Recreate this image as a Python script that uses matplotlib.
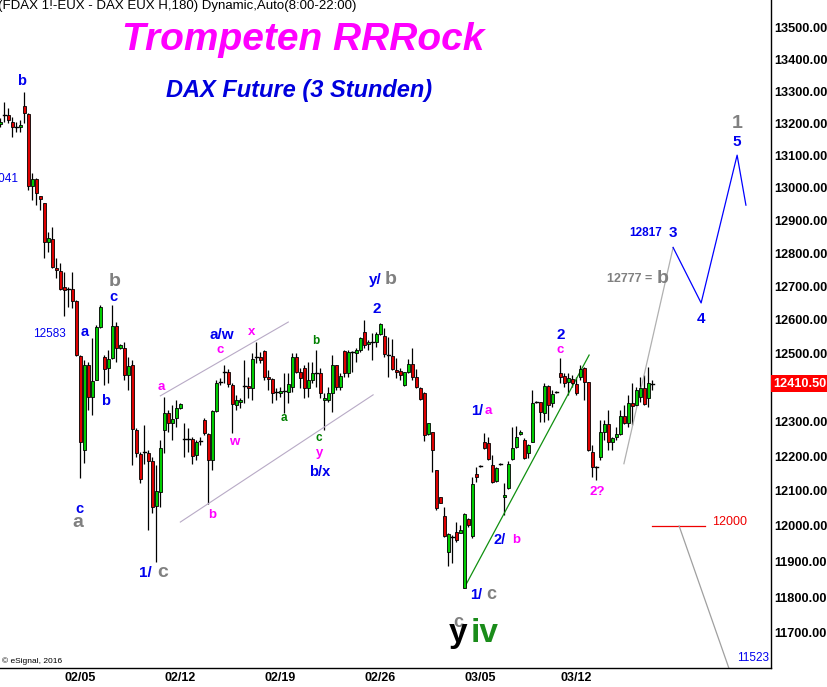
import matplotlib
matplotlib.use("Agg")
import matplotlib.pyplot as plt
from matplotlib.patches import Rectangle
from matplotlib.ticker import FixedLocator, FormatStrFormatter, NullLocator

plt.rcParams['font.family'] = ['Liberation Sans', 'DejaVu Sans']

# 3-hour bars, index 0 = first bar on the left edge
opens = [13197, 13225, 13225, 13203, 13187, 13187, 13253, 13228, 13005, 13026,
         12974, 12953, 12834, 12843, 12755, 12746, 12698, 12692, 12692, 12656,
         12492, 12218, 12466, 12372, 12422, 12578, 12489, 12457, 12486, 12581,
         12516, 12516, 12436, 12466, 12275, 12206, 12212, 12209, 12186, 12057,
         12097, 12275, 12325, 12296, 12311, 12340, 12249, 12249, 12249, 12204,
         12243, 12305, 12264, 12189, 12331, 12416, 12445, 12445, 12407, 12348,
         12357, 12404, 12404, 12398, 12489, 12489, 12507, 12431, 12425, 12387,
         12384, 12389, 12387, 12401, 12489, 12445, 12457, 12398, 12422, 12442,
         12442, 12363, 12363, 12384, 12466, 12401, 12507, 12442, 12504, 12501,
         12510, 12564, 12528, 12534, 12534, 12557, 12552, 12495, 12492, 12451,
         12448, 12407, 12445, 12469, 12431, 12398, 12384, 12264, 12270, 12160,
         12082, 12028, 11926, 11969, 11983, 11980, 11826, 12020, 11971, 12149,
         12172, 12240, 12238, 12175, 12128, 12178, 12082, 12108, 12192, 12226,
         12264, 12246, 12209, 12241, 12357, 12357, 12325, 12404, 12354, 12387,
         12442, 12433, 12416, 12425, 12410, 12431, 12457, 12416, 12212, 12169,
         12198, 12270, 12293, 12240, 12255, 12264, 12316, 12296, 12354, 12348,
         12372, 12398, 12369, 12410.5]
highs = [13215, 13266, 13247, 13219, 13203, 13209, 13297, 13231, 13045, 13029,
         12974, 12953, 12864, 12879, 12785, 12770, 12743, 12698, 12743, 12659,
         12495, 12480, 12474, 12546, 12584, 12644, 12495, 12510, 12644, 12593,
         12528, 12534, 12489, 12480, 12281, 12212, 12290, 12218, 12198, 12175,
         12246, 12372, 12334, 12348, 12363, 12354, 12296, 12281, 12255, 12246,
         12255, 12311, 12267, 12334, 12422, 12428, 12466, 12454, 12413, 12378,
         12369, 12480, 12431, 12501, 12534, 12504, 12510, 12451, 12428, 12398,
         12401, 12442, 12442, 12501, 12501, 12457, 12466, 12474, 12474, 12510,
         12457, 12384, 12401, 12495, 12466, 12442, 12510, 12510, 12507, 12516,
         12549, 12599, 12540, 12560, 12563, 12590, 12575, 12549, 12543, 12486,
         12457, 12445, 12483, 12516, 12454, 12401, 12387, 12296, 12270, 12160,
         12082, 12054, 11980, 11974, 12011, 12003, 12037, 12022, 12140, 12169,
         12175, 12267, 12255, 12204, 12169, 12180, 12122, 12186, 12284, 12287,
         12275, 12252, 12235, 12392, 12360, 12357, 12413, 12407, 12392, 12389,
         12486, 12442, 12442, 12436, 12431, 12466, 12460, 12416, 12232, 12172,
         12305, 12305, 12334, 12255, 12284, 12334, 12348, 12378, 12413, 12401,
         12431, 12436, 12460, 12422]
lows = [13187, 13203, 13200, 13156, 13172, 13172, 13200, 12992, 12962, 12946,
        12931, 12785, 12803, 12755, 12725, 12689, 12611, 12638, 12635, 12492,
        12137, 12180, 12334, 12320, 12422, 12575, 12407, 12413, 12483, 12474,
        12513, 12422, 12392, 12175, 12198, 12122, 12178, 11989, 12037, 11898,
        12054, 12209, 12270, 12246, 12284, 12337, 12198, 12212, 12178, 12189,
        12232, 12261, 12063, 12160, 12328, 12407, 12413, 12401, 12267, 12334,
        12340, 12354, 12369, 12363, 12471, 12471, 12422, 12392, 12354, 12363,
        12372, 12325, 12354, 12387, 12442, 12398, 12369, 12372, 12413, 12401,
        12369, 12275, 12357, 12328, 12392, 12392, 12431, 12431, 12445, 12474,
        12504, 12516, 12510, 12480, 12519, 12554, 12489, 12431, 12451, 12428,
        12422, 12404, 12442, 12422, 12398, 12363, 12243, 12261, 12154, 12045,
        12065, 11969, 11887, 11895, 11955, 11980, 11826, 11997, 11966, 12125,
        12169, 12221, 12189, 12122, 12125, 12175, 12031, 12105, 12189, 12223,
        12261, 12192, 12195, 12241, 12354, 12299, 12299, 12305, 12343, 12384,
        12413, 12401, 12378, 12401, 12378, 12422, 12363, 12215, 12140, 12131,
        12189, 12246, 12218, 12218, 12246, 12261, 12293, 12284, 12290, 12345,
        12357, 12348, 12343, 12392]
closes = [13203, 13225, 13209, 13187, 13187, 13194, 13231, 13005, 13026, 12983,
          12965, 12834, 12846, 12758, 12749, 12692, 12689, 12692, 12656, 12495,
          12240, 12466, 12372, 12419, 12578, 12638, 12454, 12483, 12581, 12516,
          12525, 12436, 12463, 12278, 12209, 12134, 12212, 12186, 12054, 12100,
          12223, 12325, 12296, 12308, 12340, 12351, 12249, 12249, 12201, 12241,
          12243, 12267, 12189, 12331, 12413, 12416, 12445, 12410, 12351, 12363,
          12363, 12404, 12398, 12483, 12489, 12480, 12431, 12425, 12384, 12387,
          12389, 12389, 12410, 12489, 12445, 12428, 12398, 12422, 12442, 12442,
          12384, 12369, 12384, 12466, 12401, 12433, 12442, 12504, 12504, 12510,
          12546, 12525, 12534, 12534, 12557, 12587, 12498, 12495, 12454, 12445,
          12436, 12445, 12469, 12431, 12401, 12366, 12261, 12296, 12218, 12051,
          12065, 11971, 11977, 11969, 11960, 11989, 12034, 12003, 12120, 12140,
          12172, 12223, 12192, 12125, 12166, 12178, 12088, 12178, 12223, 12255,
          12270, 12195, 12232, 12354, 12357, 12328, 12404, 12348, 12381, 12387,
          12431, 12413, 12428, 12413, 12384, 12454, 12416, 12218, 12169, 12169,
          12270, 12293, 12240, 12252, 12264, 12316, 12296, 12354, 12345, 12392,
          12398, 12351, 12413, 12410.5]

date_ticks = [20, 45, 70, 95, 120, 144]
date_labels = ['02/05', '02/12', '02/19', '02/26', '03/05', '03/12']
price_ticks = list(range(11700, 13600, 100))

# drawn wave lines: (bar index, price)
upper_channel = ([40, 72], [12375, 12593])
lower_channel = ([45, 93.2], [12011, 12378])
green_trend = ([116, 147.2], [11826, 12495])
b_target = ([155.9, 168.2], [12178, 12817])
wave_path = ([168.2, 175.2, 184.2, 186.4], [12817, 12650, 13100, 12946])
level_12000 = ([163, 176.2], [12000, 12000])
drop_11523 = ([169.7, 184.7], [12000, 11523])

BLUE = '#0000ee'
GRAY = '#808080'
MAG = '#ff00ff'
GRN = '#008000'
UP = '#00cc00'
DN = '#dd0000'

fig = plt.figure(figsize=(8.28, 6.87), dpi=100)
ax = fig.add_axes([0, 19 / 687, 771 / 828, 668 / 687])
ax.set_yscale('log')
ax.set_xlim(-0.08, 192.67)
ax.set_ylim(11603.5, 13589.7)

for i, (o, h, l, c) in enumerate(zip(opens, highs, lows, closes)):
    ax.plot([i, i], [l, h], color='black', lw=0.9, zorder=2, solid_capstyle='butt')
    if abs(c - o) < 1:
        ax.plot([i - 0.4, i + 0.4], [c, c], color='black', lw=1.0, zorder=3)
    else:
        ax.add_patch(Rectangle((i - 0.3, min(o, c)), 0.6, abs(c - o),
                               facecolor=UP if c > o else DN,
                               edgecolor='black', lw=0.6, zorder=3))

ax.plot(*upper_channel, color='#b8aac6', lw=0.8)
ax.plot(*lower_channel, color='#b8aac6', lw=0.8)
ax.plot(*green_trend, color='#109010', lw=0.9)
ax.plot(*b_target, color='#b0b0b0', lw=0.9)
ax.plot(*wave_path, color='#0000ff', lw=0.9)
ax.plot(*level_12000, color='#ee0000', lw=0.9)
ax.plot(*drop_11523, color='#a0a0a0', lw=0.9)


def lab(x, y, s, color, size, weight='bold', ha='center', va='center'):
    ax.text(x, y, s, color=color, fontsize=size, fontweight=weight,
            ha=ha, va=va, clip_on=False, zorder=5)


# wave labels
lab(5.2, 13332, 'b', BLUE, 10.5)
lab(4.4, 13025, '13041', BLUE, 8.5, weight='normal', ha='right')
lab(12.4, 12557, '12583', BLUE, 8.5, weight='normal')
lab(28.7, 12713, 'b', GRAY, 14)
lab(28.2, 12668, 'c', BLUE, 10.5)
lab(21.2, 12563, 'a', BLUE, 10.5)
lab(26.2, 12360, 'b', BLUE, 10.5)
lab(19.9, 12048, 'c', BLUE, 10.5)
lab(19.4, 12011, 'a', GRAY, 14)
lab(36.3, 11868, '1/', BLUE, 11)
lab(40.6, 11868, 'c', GRAY, 14)
lab(40.2, 12401, 'a', MAG, 9.5)
lab(55.4, 12554, 'a/w', BLUE, 11)
lab(54.9, 12510, 'c', MAG, 9.5)
lab(62.9, 12562, 'x', MAG, 9.5)
lab(58.4, 12241, 'w', MAG, 9.5)
lab(52.9, 12031, 'b', MAG, 9.5)
lab(70.9, 12311, 'a', GRN, 8.5)
lab(78.9, 12537, 'b', GRN, 8.5)
lab(79.7, 12252, 'c', GRN, 8.5)
lab(79.9, 12209, 'y', MAG, 9.5)
lab(79.9, 12154, 'b/x', BLUE, 10.5)
lab(93.7, 12719, 'y/', BLUE, 11)
lab(97.6, 12719, 'b', GRAY, 14)
lab(94.2, 12632, '2', BLUE, 11)
lab(119.2, 12331, '1/', BLUE, 10.5)
lab(121.9, 12331, 'a', MAG, 9.5)
lab(140.2, 12554, '2', BLUE, 11)
lab(139.9, 12510, 'c', MAG, 9.5)
lab(124.9, 11960, '2/', BLUE, 10.5)
lab(128.9, 11960, 'b', MAG, 9.5)
lab(118.9, 11806, '1/', BLUE, 10.5)
lab(122.7, 11806, 'c', GRAY, 13)
lab(114.4, 11728, 'c', GRAY, 13)
lab(114.4, 11675, 'y', 'black', 24, va='baseline')
lab(121.0, 11675, 'iv', '#1a8c1a', 24, va='baseline')
lab(149.2, 12097, '2?', MAG, 9.5)
lab(162.9, 12722, '12777 =', GRAY, 9, ha='right')
lab(165.7, 12722, 'b', GRAY, 14)
lab(165.4, 12861, '12817', BLUE, 8.5, ha='right')
lab(168.2, 12861, '3', BLUE, 11)
lab(175.2, 12602, '4', BLUE, 11)
lab(184.2, 13141, '5', BLUE, 11)
lab(184.2, 13197, '1', GRAY, 14)
lab(177.9, 12011, '12000', '#ee0000', 9, weight='normal', ha='left')
lab(184.2, 11631, '11523', BLUE, 8.5, weight='normal', ha='left')

# axes styling
for side in ('left', 'top'):
    ax.spines[side].set_visible(False)
ax.spines['right'].set_linewidth(1.0)
ax.spines['bottom'].set_linewidth(1.0)
ax.yaxis.tick_right()
ax.yaxis.set_major_locator(FixedLocator(price_ticks))
ax.yaxis.set_major_formatter(FormatStrFormatter('%.2f'))
ax.yaxis.set_minor_locator(NullLocator())
ax.set_xticks(date_ticks)
ax.set_xticklabels(date_labels)
ax.tick_params(axis='y', length=0, pad=2, labelsize=9.2)
ax.tick_params(axis='x', length=0, pad=3, labelsize=9)
for t in ax.get_yticklabels() + ax.get_xticklabels():
    t.set_fontweight('bold')

# last price tag
ax.text(1.003, closes[-1], f"{closes[-1]:.2f}", transform=ax.get_yaxis_transform(),
        ha='left', va='center', color='white', fontsize=9.2, fontweight='bold',
        clip_on=False, zorder=6,
        bbox=dict(boxstyle='square,pad=0.2', facecolor='#ff0000', edgecolor='none'))

fig.text(-0.003, 1 - 6 / 687, '(FDAX 1!-EUX - DAX EUX H,180) Dynamic,Auto(8:00-22:00)',
         fontsize=9.5, va='center', ha='left', color='black')
fig.text(303.5 / 828, 1 - 40 / 687, 'Trompeten RRRock', color=MAG, fontsize=28,
         fontweight='bold', style='italic', ha='center', va='center')
fig.text(299.5 / 828, 1 - 91 / 687, 'DAX Future (3 Stunden)', color='#0000dd', fontsize=17,
         fontweight='bold', style='italic', ha='center', va='center')
fig.text(0.002, 1 - 661 / 687, '\u00a9 eSignal, 2016', fontsize=6, va='center', ha='left')

fig.savefig('out.png', dpi=100, facecolor='white')
